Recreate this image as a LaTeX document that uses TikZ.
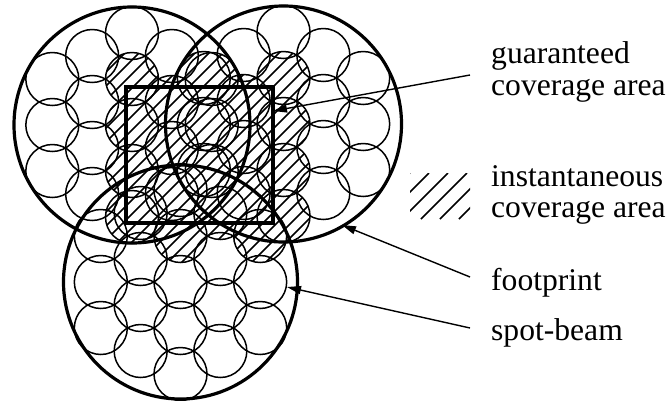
\documentclass[tikz,border=0pt]{standalone}
\usepackage{fontspec}
\setmainfont{Liberation Serif}
\usetikzlibrary{arrows.meta}
\tikzset{
  cell/.style={line width=1.5pt},
  foot/.style={line width=3.2pt},
  gca/.style={line width=3.2pt},
  hatchln/.style={line width=1.7pt},
  leader/.style={line width=1.4pt,-{Triangle[length=14pt,width=8pt]}},
  lbl/.style={anchor=base west,inner sep=0pt,font=\fontsize{31.6}{31.6}\selectfont},
}
\newcommand\spotflower[2]{%
  \foreach \i/\j in {0/-4,0/-2,0/0,0/2,0/4,-1/-3,-1/-1,-1/1,-1/3,1/-3,1/-1,1/1,1/3,-2/-2,-2/0,-2/2,2/-2,2/0,2/2}
    {\draw[cell] ({#1+\i*39.84},{#2+\j*23}) circle[radius=26.5pt];}%
}
\begin{document}
\begin{tikzpicture}[x=1pt,y=-1pt]
\useasboundingbox (0,0) rectangle (670,400);
% instantaneous coverage area (hatched spot-beams)
\begin{scope}
  \clip (132,79) circle[radius=26.5pt] (132,125) circle[radius=26.5pt]
        (132,171) circle[radius=26.5pt] (132,217) circle[radius=26.5pt]
        (171.8,102) circle[radius=26.5pt] (171.8,148) circle[radius=26.5pt]
        (171.8,194) circle[radius=26.5pt] (211.7,79) circle[radius=26.5pt]
        (211.7,125) circle[radius=26.5pt] (211.7,171) circle[radius=26.5pt]
        (203.8,78) circle[radius=26.5pt] (203.8,124) circle[radius=26.5pt]
        (203.8,170) circle[radius=26.5pt] (243.7,101) circle[radius=26.5pt]
        (243.7,147) circle[radius=26.5pt] (243.7,193) circle[radius=26.5pt]
        (283.5,78) circle[radius=26.5pt] (283.5,124) circle[radius=26.5pt]
        (283.5,170) circle[radius=26.5pt] (283.5,216) circle[radius=26.5pt]
        (140.7,213) circle[radius=26.5pt] (180.5,190) circle[radius=26.5pt]
        (180.5,236) circle[radius=26.5pt] (220.3,213) circle[radius=26.5pt]
        (260.2,236) circle[radius=26.5pt];
  \foreach \c in {150,164,...,600}
    {\draw[hatchln] ({\c-280},280) -- ({\c-20},20);}
\end{scope}
% spot-beams
\spotflower{132}{125}
\spotflower{283.5}{124}
\spotflower{180.5}{282}
% footprints
\draw[foot] (132,125) circle[radius=118pt];
\draw[foot] (283.5,124) circle[radius=118pt];
\draw[foot] (180.5,282) circle[radius=117pt];
% guaranteed coverage area
\draw[gca] (126,87) rectangle (273,223);
% legend hatch
\begin{scope}
  \clip (410,173) rectangle (470,219);
  \foreach \c in {583,602,...,680}
    {\draw[hatchln] ({\c-219},219) -- ({\c-173},173);}
\end{scope}
% labels
\node[lbl] (gText1) at (491,63) {guaranteed};
\node[lbl] (gText2) at (491,95) {coverage area};
\node[lbl] (iText1) at (491,186) {instantaneous};
\node[lbl] (iText2) at (491,217) {coverage area};
\node[lbl] (fText) at (491,290) {footprint};
\node[lbl] (sText) at (491,340.5) {spot-beam};
% leaders
\coordinate (gStart) at (470,75);
\coordinate (gTip) at (273,111);
\coordinate (fStart) at (470,277);
\coordinate (fTip) at (342,225);
\coordinate (sStart) at (470,328);
\coordinate (sTip) at (287,287);
\draw[leader] (gStart) -- (gTip);
\draw[leader] (fStart) -- (fTip);
\draw[leader] (sStart) -- (sTip);
\end{tikzpicture}
\end{document}
